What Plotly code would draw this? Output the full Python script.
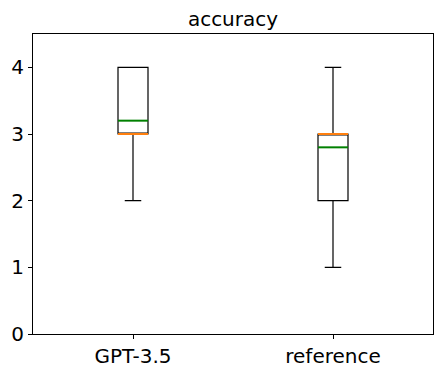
import plotly.graph_objects as go

categories = ["GPT-3.5", "reference"]
q1 = [3, 2]
median = [3, 3]
q3 = [4, 3]
lower = [2, 1]
upper = [4, 4]
mean = [3.2, 2.8]

positions = [1, 2]
box_w = 0.15

fig = go.Figure()
for i, name in enumerate(categories):
    p = positions[i]
    fig.add_trace(go.Box(
        x=[p], q1=[q1[i]], median=[median[i]], q3=[q3[i]],
        lowerfence=[lower[i]], upperfence=[upper[i]],
        width=box_w, whiskerwidth=0.55,
        fillcolor="rgba(0,0,0,0)", line=dict(color="black", width=1.2),
        showlegend=False, hoverinfo="skip",
    ))
    # median line (orange) and mean line (green)
    fig.add_trace(go.Scatter(
        x=[p - box_w / 2, p + box_w / 2], y=[median[i], median[i]],
        mode="lines", line=dict(color="#ff7f0e", width=2), showlegend=False,
    ))
    fig.add_trace(go.Scatter(
        x=[p - box_w / 2, p + box_w / 2], y=[mean[i], mean[i]],
        mode="lines", line=dict(color="green", width=2), showlegend=False,
    ))

font = dict(family="DejaVu Sans", color="black")
axis_style = dict(
    showline=True, mirror=True, linecolor="black", linewidth=1,
    ticks="outside", ticklen=4, tickcolor="black", showgrid=False, zeroline=False,
    tickfont=dict(size=20, **font), automargin=False,
)
fig.update_xaxes(range=[0.5, 2.5], tickvals=positions, ticktext=categories, **axis_style)
fig.update_yaxes(range=[0, 4.5], tickvals=[0, 1, 2, 3, 4], **axis_style)
fig.update_layout(
    title=dict(text="accuracy", xref="paper", x=0.5, xanchor="center",
               yref="container", y=0.95, yanchor="middle",
               font=dict(size=20, **font)),
    width=442, height=374,
    margin=dict(l=33, r=9, t=34, b=40),
    plot_bgcolor="white", paper_bgcolor="white",
)
# page body has a default 8px margin; drop it so the figure sits at the corner
fig.write_html("out.html", config={"displayModeBar": False},
               post_script="document.body.style.margin='0';")
